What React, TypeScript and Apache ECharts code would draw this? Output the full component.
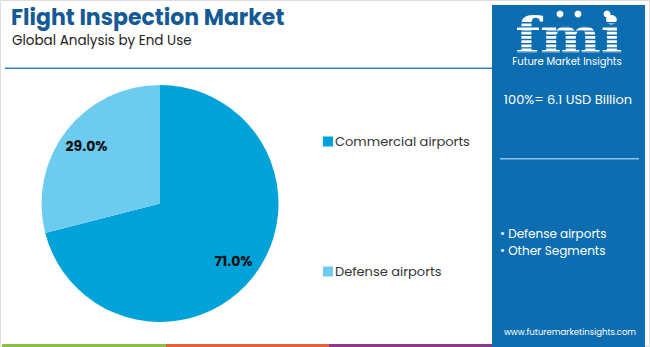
import React, { useEffect, useRef } from "react";
import * as echarts from "echarts";

const categories = ["Commercial airports", "Defense airports"];
const values = [71.0, 29.0];
const colors = ["#00a3d9", "#6dcbf0"];
const title = "Flight Inspection Market";
const subtitle = "Global Analysis by End Use";
const totalText = "100%= 6.1 USD Billion";
const panelBullets = ["• Defense airports", "• Other Segments"];
const website = "www.futuremarketinsights.com";

const PANEL = "#0c6db0";
const FONT = "Poppins, 'Open Sans', Inter, sans-serif";

export default function App() {
  const ref = useRef<HTMLDivElement>(null);
  useEffect(() => {
    if (!ref.current) return;
    const chart = echarts.init(ref.current, null, { renderer: "svg" });
    const data = categories.map((c, i) => ({ name: c, value: values[i], itemStyle: { color: colors[i] } }));
    const stripes: any[] = [];
    for (let k = 0; k < 9; k++) {
      stripes.push({ type: "rect", shape: { x: 510, y: 22 + k * 4.2, width: 120, height: 1.4 }, style: { fill: PANEL }, z: 12 });
    }
    chart.setOption({
      animation: false,
      backgroundColor: "#ffffff",
      legend: {
        orient: "vertical",
        left: 318,
        top: 130,
        itemWidth: 10,
        itemHeight: 10,
        itemGap: 117,
        icon: "rect",
        selectedMode: false,
        data: categories.map((c, i) => ({ name: c, itemStyle: { color: colors[i] } })),
        textStyle: { fontSize: 13, color: "#333333", fontFamily: FONT, padding: [0, 0, 0, -3] },
      },
      series: [
        {
          type: "pie",
          center: [160, 203.5],
          radius: [0, 118.5],
          startAngle: 90,
          clockwise: true,
          silent: true,
          label: { show: false },
          labelLine: { show: false },
          data,
        },
        {
          type: "pie",
          center: [160, 203.5],
          radius: [60, 120],
          startAngle: 90,
          clockwise: true,
          silent: true,
          itemStyle: { color: "transparent" },
          label: {
            show: true,
            position: "inside",
            formatter: (p: any) => p.value.toFixed(1) + "%",
            fontSize: 14,
            fontWeight: "bold",
            color: "#111111",
            fontFamily: FONT,
          },
          labelLine: { show: false },
          data: categories.map((c, i) => ({ name: c, value: values[i], itemStyle: { color: "transparent" } })),
        },
      ],
      graphic: [
        { type: "rect", shape: { x: 0.5, y: 0.5, width: 649, height: 346 }, style: { fill: "none", stroke: "#dddddd", lineWidth: 1 }, z: 0 },
        { type: "text", x: 11, y: 6, style: { text: title, fontSize: 22, lineHeight: 22, fontWeight: "bold", fill: "#155a96", fontFamily: FONT }, z: 10 },
        { type: "text", x: 12, y: 33, style: { text: subtitle, fontSize: 13.5, lineHeight: 15, fill: "#222222", fontFamily: FONT }, z: 10 },
        { type: "rect", shape: { x: 5, y: 67.5, width: 490, height: 1.5 }, style: { fill: "#3a7fbf" }, z: 10 },
        { type: "rect", shape: { x: 492, y: 5, width: 153, height: 342 }, style: { fill: PANEL }, z: 10 },
        { type: "text", x: 569, y: 14, scaleX: 1.15, style: { text: "fmi", fontSize: 50, lineHeight: 42, fontWeight: "bold", fill: "#ffffff", fontFamily: "'DejaVu Serif', serif", align: "center" }, z: 11 },
        ...stripes,
        { type: "circle", shape: { cx: 560, cy: 14, r: 3.5 }, style: { fill: "#ffffff" }, z: 13 },
        { type: "circle", shape: { cx: 578, cy: 14, r: 3.5 }, style: { fill: "#ffffff" }, z: 13 },
        { type: "circle", shape: { cx: 607, cy: 14, r: 3.5 }, style: { fill: "#ffffff" }, z: 13 },
        { type: "text", x: 567, y: 56, style: { text: "Future Market Insights", fontSize: 10, lineHeight: 11, fill: "#ffffff", fontFamily: FONT, align: "center" }, z: 13 },
        { type: "text", x: 568, y: 93, style: { text: totalText, fontSize: 13, fill: "#ffffff", fontFamily: FONT, align: "center" }, z: 11 },
        { type: "rect", shape: { x: 500, y: 158, width: 139, height: 1.5 }, style: { fill: "#8fc3ea" }, z: 11 },
        { type: "text", x: 500, y: 226, style: { text: panelBullets[0], fontSize: 12, lineHeight: 14, fill: "#ffffff", fontFamily: FONT }, z: 11 },
        { type: "text", x: 500, y: 243, style: { text: panelBullets[1], fontSize: 12, lineHeight: 14, fill: "#ffffff", fontFamily: FONT }, z: 11 },
        { type: "text", x: 570, y: 327, style: { text: website, fontSize: 8.5, fill: "#ffffff", fontFamily: FONT, align: "center" }, z: 11 },
        { type: "rect", shape: { x: 2, y: 344, width: 164, height: 3 }, style: { fill: "#8bbd4a" }, z: 10 },
        { type: "rect", shape: { x: 166, y: 344, width: 163, height: 3 }, style: { fill: "#e0623a" }, z: 10 },
        { type: "rect", shape: { x: 329, y: 344, width: 163, height: 3 }, style: { fill: "#8a3a8c" }, z: 10 },
      ],
    });
    return () => chart.dispose();
  }, []);
  return <div ref={ref} style={{ position: "fixed", left: 0, top: 0, width: 650, height: 347 }} />;
}
